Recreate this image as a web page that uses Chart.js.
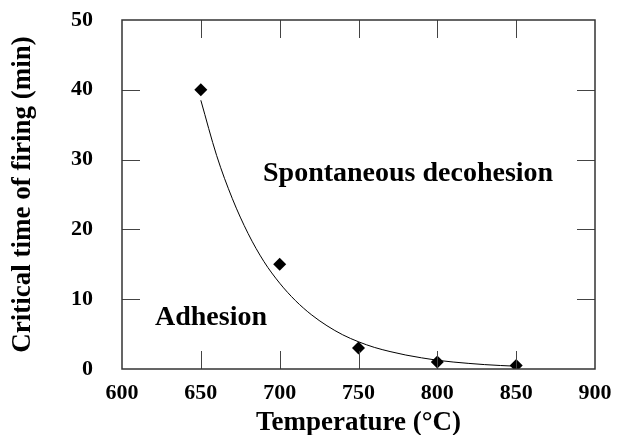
<!DOCTYPE html>
<html>
<head>
<meta charset="utf-8">
<script src="https://cdn.jsdelivr.net/npm/chart.js@4/dist/chart.umd.min.js"></script>
<style>
    html, body { margin: 0; padding: 0; background: #ffffff; }
    #wrap { width: 618px; height: 435px; }
</style>
</head>
<body>
<div id="wrap"><canvas id="base" width="618" height="435"></canvas></div>
<script>
// Data
const temperatures = [650, 700, 750, 800, 850];
const criticalTimes = [40, 15, 3, 1, 0.5];

// fitted curve
const fitTemperatures = [650, 660, 670, 680, 690, 700, 710, 720, 730, 740, 750, 760, 770, 780, 790, 800, 810, 820, 830, 840, 850];
const fitTimes = [38.5, 30.6, 24.4, 19.4, 15.4, 12.3, 9.8, 7.8, 6.2, 4.9, 3.9, 3.1, 2.5, 2.0, 1.6, 1.25, 1.0, 0.8, 0.63, 0.5, 0.4];

const xTicks = [600, 650, 700, 750, 800, 850, 900];
const yTicks = [0, 10, 20, 30, 40, 50];

const serif = "'Liberation Serif', 'DejaVu Serif', serif";

// Frame with inward ticks + region labels
const framePlugin = {
    id: "frame",
    afterDraw(chart) {
        const { ctx, chartArea: a, scales } = chart;
        ctx.save();

        // ticks
        ctx.strokeStyle = "#444";
        ctx.lineWidth = 1;
        ctx.beginPath();
        xTicks.slice(1, -1).forEach((v) => {
            const x = Math.round(scales.x.getPixelForValue(v)) + 0.5;
            ctx.moveTo(x, a.top);
            ctx.lineTo(x, a.top + 18);
            ctx.moveTo(x, a.bottom);
            ctx.lineTo(x, a.bottom - 18);
        });
        yTicks.slice(1, -1).forEach((v) => {
            const y = Math.round(scales.y.getPixelForValue(v)) + 0.5;
            ctx.moveTo(a.left, y);
            ctx.lineTo(a.left + 18, y);
            ctx.moveTo(a.right, y);
            ctx.lineTo(a.right - 18, y);
        });
        ctx.stroke();

        // frame
        ctx.strokeStyle = "#333";
        ctx.lineWidth = 1.5;
        ctx.strokeRect(a.left, a.top, a.right - a.left, a.bottom - a.top);

        // region labels
        ctx.fillStyle = "#000";
        ctx.font = "bold 28px " + serif;
        ctx.textBaseline = "middle";
        ctx.textAlign = "left";
        ctx.fillText("Spontaneous decohesion", 263, 174);
        ctx.fillText("Adhesion", 155, 318);

        ctx.restore();
    },
};

// Get Container
const ctx = document.getElementById("base").getContext("2d");

// Chart
const chart = new Chart(ctx, {
    type: "scatter",
    data: {
        datasets: [
            {
                label: "Critical time",
                data: temperatures.map((t, i) => ({ x: t, y: criticalTimes[i] })),
                pointStyle: "rectRot",
                pointRadius: 6.5,
                backgroundColor: "#000",
                borderColor: "#000",
                borderWidth: 0,
                order: 1,
            },
            {
                label: "Fit",
                type: "line",
                data: fitTemperatures.map((t, i) => ({ x: t, y: fitTimes[i] })),
                borderColor: "#000",
                borderWidth: 1,
                pointRadius: 0,
                tension: 0.4,
                cubicInterpolationMode: "monotone",
                fill: false,
                order: 2,
            },
        ],
    },
    options: {
        responsive: false,
        animation: false,
        devicePixelRatio: 1,
        layout: {
            padding: { top: 20, right: 23, left: 0, bottom: 0 },
        },
        scales: {
            x: {
                type: "linear",
                min: 600,
                max: 900,
                afterBuildTicks: (scale) => {
                    scale.ticks = xTicks.map((v) => ({ value: v }));
                },
                afterFit: (scale) => {
                    scale.height = 66;
                    scale.paddingLeft = 0;
                    scale.paddingRight = 0;
                },
                grid: { display: false, drawTicks: false },
                border: { display: false },
                ticks: {
                    color: "#000",
                    padding: 11,
                    maxRotation: 0,
                    font: { family: serif, size: 22, weight: "bold" },
                },
                title: {
                    display: true,
                    text: "Temperature (°C)",
                    color: "#000",
                    padding: { top: 0, bottom: -4 },
                    font: { family: serif, size: 27, weight: "bold" },
                },
            },
            y: {
                type: "linear",
                min: 0,
                max: 50,
                afterBuildTicks: (scale) => {
                    scale.ticks = yTicks.map((v) => ({ value: v }));
                },
                afterFit: (scale) => {
                    scale.width = 122;
                    scale.paddingTop = 0;
                    scale.paddingBottom = 0;
                },
                grid: { display: false, drawTicks: false },
                border: { display: false },
                ticks: {
                    color: "#000",
                    padding: 29,
                    font: { family: serif, size: 22, weight: "bold" },
                },
                title: {
                    display: true,
                    text: "Critical time of firing (min)",
                    color: "#000",
                    padding: { top: 7, bottom: 0 },
                    font: { family: serif, size: 27, weight: "bold" },
                },
            },
        },
        plugins: {
            legend: { display: false },
            tooltip: { enabled: false },
        },
    },
    plugins: [framePlugin],
});
</script>
</body>
</html>
